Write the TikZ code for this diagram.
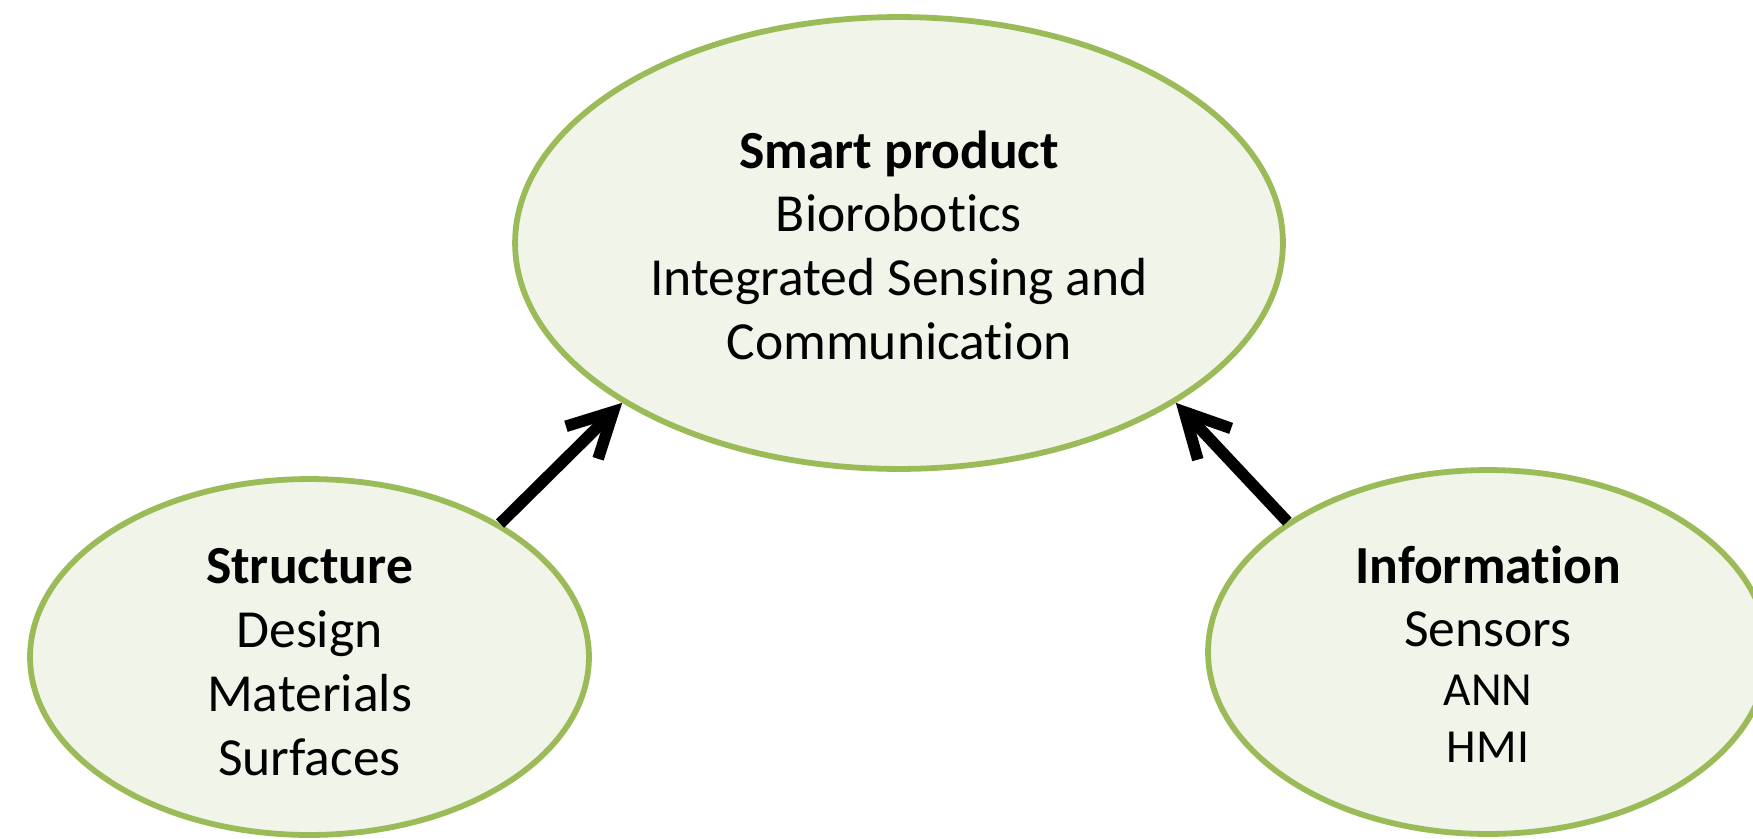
\documentclass[tikz,border=0pt]{standalone}
\usepackage{fontspec}
\setmainfont[Ligatures=NoCommon]{Carlito}
\usetikzlibrary{shapes.geometric,arrows.meta}

\definecolor{leafgreen}{HTML}{9BBB59}
\definecolor{leaffill}{HTML}{F1F5E9}

\tikzset{
  bubble/.style={ellipse, draw=leafgreen, fill=leaffill, line width=3.3pt,
    inner sep=0pt, align=center, font=\fontsize{30.5pt}{36.3pt}\selectfont},
  push/.style={line width=6.6pt, -{Straight Barb[length=25pt,width=26pt]}}
}
\newcommand{\minor}{\fontsize{27pt}{31.8pt}\selectfont}

\begin{document}
\begin{tikzpicture}[x=0.02cm,y=-0.02cm]
\useasboundingbox (0,0) rectangle (1753,838);
% the three bubbles
\node[bubble, minimum width=15.36cm, minimum height=9.04cm] (smart) at (899,243)
  {\rule{0pt}{0.78em}\textbf{Smart product}\\Biorobotics\\Integrated Sensing and\\Communication};
\node[bubble, minimum width=11.18cm, minimum height=7.12cm] (structure) at (309.5,657)
  {\rule{0pt}{0.85em}\textbf{Structure}\\Design\\Materials\\Surfaces};
\node[bubble, minimum width=11.2cm, minimum height=7.28cm] (information) at (1488,652)
  {\rule{0pt}{0.78em}\textbf{Information}\\Sensors\\[-3pt]{\minor ANN}\\[-3.6pt]{\minor HMI}};
% arrows up to the smart product
\draw[push] (structure.35) -- (smart.210);
\draw[push] (information.147) -- (smart.-30.7);
\end{tikzpicture}
\end{document}
